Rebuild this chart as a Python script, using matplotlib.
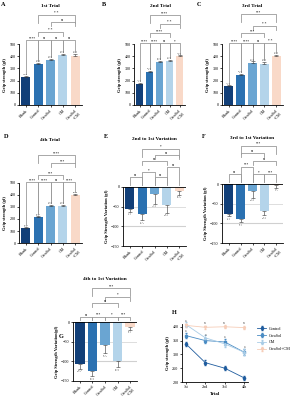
import numpy as np
import matplotlib.pyplot as plt

plt.rcParams['font.family'] = ['Liberation Serif', 'DejaVu Serif']

# data
groups = ['Blank', 'Control', 'CreaSol', 'CM', 'CreaSol\n+CM']
colors = ['#123f78', '#2b71b1', '#6aa5d2', '#b4d4ea', '#f9d9c8']

trial1 = [230, 338, 368, 408, 405]
trial1_err = [6, 10, 12, 14, 12]
trial2 = [175, 270, 350, 360, 398]
trial2_err = [6, 8, 14, 12, 8]
trial3 = [155, 250, 345, 338, 400]
trial3_err = [6, 8, 12, 14, 10]
trial4 = [125, 215, 308, 308, 397]
trial4_err = [6, 8, 10, 12, 10]

var21 = [-55, -68, -17, -47, -10]
var21_err = [8, 17, 26, 18, 10]
var31 = [-75, -88, -17, -68, -3]
var31_err = [7, 9, 18, 12, 6]
var41 = [-107, -125, -58, -100, -12]
var41_err = [12, 13, 22, 15, 8]

trials = ['1st', '2nd', '3rd', '4th']
line_names = ['Control', 'CreaSol', 'CM', 'CreaSol+CM']
line_control = [338, 270, 250, 215]
line_creasol = [368, 350, 345, 308]
line_cm = [408, 360, 338, 308]
line_both = [405, 398, 400, 397]
line_err = [[6, 8, 8, 8], [8, 10, 10, 10], [8, 10, 10, 10], [6, 6, 6, 6]]
line_sig = [['', '', '', ''], ['a', 'a', 'a', 'a'], ['', '', '', ''], ['a', 'ns', 'ns', 'ns']]

# brackets: (i, j, height, label)
br_A = [(0, 1, 533, '****'), (1, 2, 533, 'ns'), (2, 3, 533, 'ns'), (3, 4, 533, 'ns'),
        (1, 3, 598, '* *'), (2, 4, 680, 'ns'), (1, 4, 738, '* *')]
br_B = [(0, 1, 505, '****'), (1, 2, 505, '****'), (2, 3, 505, 'ns'), (3, 4, 505, '*'),
        (1, 3, 590, '****'), (2, 4, 664, '* *'), (1, 4, 738, '****')]
br_C = [(0, 1, 508, '****'), (1, 2, 508, '****'), (2, 3, 508, 'ns'), (3, 4, 508, '* *'),
        (1, 3, 590, '***'), (2, 4, 650, '* *'), (1, 4, 746, '***')]
br_D = [(0, 1, 508, '****'), (1, 2, 508, '****'), (2, 3, 508, 'ns'), (3, 4, 508, '****'),
        (1, 3, 567, '***'), (2, 4, 667, '***'), (1, 4, 733, '****')]
br_E = [(0, 1, 25, 'ns'), (1, 2, 38, '*'), (2, 3, 25, 'ns'), (3, 4, 51, 'ns'),
        (1, 3, 66, 'ns'), (2, 4, 81, 'ns'), (1, 4, 97, '*')]
br_F = [(0, 1, 25, 'ns'), (1, 2, 44, '***'), (2, 3, 25, '*'), (3, 4, 25, '***'),
        (1, 3, 79, 'ns'), (2, 4, 58, 'ns'), (1, 4, 97, '***')]
br_G = [(0, 1, 13, 'ns'), (1, 2, 13, '***'), (2, 3, 13, '*'), (3, 4, 13, '***'),
        (1, 3, 48, 'ns'), (2, 4, 64, '*'), (1, 4, 86, '***')]

fig = plt.figure(figsize=(2.96, 4.0), dpi=100)


def add_ax(l, t, r, b):
    return fig.add_axes([l / 296, 1 - b / 400, (r - l) / 296, (b - t) / 400])


def style(ax):
    for s in ['top', 'right']:
        ax.spines[s].set_visible(False)
    for s in ['left', 'bottom']:
        ax.spines[s].set_linewidth(0.6)
    ax.tick_params(width=0.5, length=1.5, labelsize=3, pad=1)


def bracket(ax, i, j, y, txt, lo_i, lo_j):
    ax.plot([i, i, j, j], [lo_i, y, y, lo_j], color='#9a9a9a', lw=0.6, clip_on=False)
    ax.text((i + j) / 2, y, txt, ha='center', va='bottom', fontsize=2.5, clip_on=False)


def bar_panel(ax, vals, errs, brs, ylabel, neg=False):
    x = np.arange(len(vals))
    ax.bar(x, vals, width=0.75, color=colors, zorder=2)
    for xi, v, e in zip(x, vals, errs):
        ax.errorbar(xi, v, yerr=[[0], [e]] if not neg else [[e], [0]], color='#333333',
                    elinewidth=0.4, capsize=1.2, capthick=0.4, zorder=3)
        yt = v + e if not neg else v - e
        ax.text(xi, yt + (6 if not neg else -4), f'{abs(v):.1f}\n±{e:.1f}', ha='center',
                va='bottom' if not neg else 'top', fontsize=1.5, color='#555555', linespacing=0.9)
    style(ax)
    ax.set_xlim(-0.55, 4.55)
    ax.set_xticks(x)
    ax.set_xticklabels(groups, rotation=45, ha='right', rotation_mode='anchor', fontsize=3)
    if not neg:
        ax.set_ylim(0, 500)
        ax.set_yticks([0, 100, 200, 300, 400, 500])
        rng = 500
    else:
        ax.set_ylim(-150, 0)
        ax.set_yticks([0, -50, -100, -150])
        ax.axhline(-50, color='#d0d0d0', lw=0.5, zorder=1)
        ax.axhline(-100, color='#d0d0d0', lw=0.8, zorder=1)
        ax.axhline(0, color='black', lw=0.6, zorder=4)
        rng = 150
    ax.set_ylabel(ylabel, fontsize=3.2, fontweight='bold', labelpad=1.5)
    top = max(b[2] for b in brs)
    for i, j, y, txt in brs:
        if j - i == 1:
            if neg:
                lo_i, lo_j = 4, 4
            else:
                lo_i = vals[i] + errs[i] + 0.03 * rng
                lo_j = vals[j] + errs[j] + 0.03 * rng
        else:
            drop = 0.13 * rng if y == top else 0.07 * rng
            lo_i = lo_j = y - drop
        bracket(ax, i, j, y, txt, lo_i, lo_j)
    return ax


axA = add_ax(19, 44, 82, 105)
bar_panel(axA, trial1, trial1_err, br_A, 'Grip strength (gf)')
axB = add_ax(134, 44, 185, 105)
bar_panel(axB, trial2, trial2_err, br_B, 'Grip strength (gf)')
axC = add_ax(222, 44, 283, 105)
bar_panel(axC, trial3, trial3_err, br_C, 'Grip strength (gf)')
axD = add_ax(19, 183, 82, 243)
bar_panel(axD, trial4, trial4_err, br_D, 'Grip strength (gf)')
axE = add_ax(123, 187, 186, 246)
bar_panel(axE, var21, var21_err, br_E, 'Grip Strength Variation (gf)', neg=True)
axF = add_ax(222, 184, 283, 243)
bar_panel(axF, var31, var31_err, br_F, 'Grip Strength Variation (gf)', neg=True)
axG = add_ax(73, 322, 137, 381)
bar_panel(axG, var41, var41_err, br_G, 'Grip Strength Variation(gf)', neg=True)

# titles and panel letters (pixel positions)
titles = [('1st Trial', 50, 6), ('2nd Trial', 160, 6), ('3rd Trial', 252, 6),
          ('4th Trial', 50, 140), ('2nd to 1st Variation', 154, 139), ('3rd to 1st Variation', 252, 138),
          ('4th to 1st Variation', 105, 279)]
for t, px, py in titles:
    fig.text(px / 296, 1 - py / 400, t, ha='center', va='center', fontsize=3.8, fontweight='bold')
letters = [('A', 3, 4), ('B', 104, 4), ('C', 199, 4), ('D', 6, 137), ('E', 106, 137),
           ('F', 204, 137), ('G', 61, 336), ('H', 174, 312)]
for t, px, py in letters:
    fig.text(px / 296, 1 - py / 400, t, ha='center', va='center', fontsize=4.5, fontweight='bold')

# panel H
axH = add_ax(182, 324, 248, 382)
line_colors = ['#1f5c9e', '#4a8cc4', '#a9cce6', '#f6cdb8']
markers = ['o', 's', '^', 'v']
xs = np.arange(len(trials))
for k, (vals, name) in enumerate(zip([line_control, line_creasol, line_cm, line_both], line_names)):
    axH.errorbar(xs, vals, yerr=line_err[k], color=line_colors[k], marker=markers[k], ms=1.6,
                 lw=0.6, elinewidth=0.4, capsize=0.8, label=name, clip_on=False)
    for xi, v, s in zip(xs, vals, line_sig[k]):
        if s:
            axH.text(xi, v + line_err[k][xi] + 2, s, ha='center', va='bottom', fontsize=2.3,
                     color='#444444')
style(axH)
axH.set_ylim(200, 410)
axH.set_yticks([200, 250, 300, 350, 400])
axH.set_xlim(-0.2, 3.2)
axH.set_xticks(xs)
axH.set_xticklabels(trials, fontsize=3)
axH.set_ylabel('Grip strength (gf)', fontsize=3.2, fontweight='bold', labelpad=1.5)
axH.set_xlabel('Trial', fontsize=3.5, fontweight='bold', labelpad=2)
axH.legend(loc='upper left', bbox_to_anchor=(1.08, 1.02), frameon=False, fontsize=3,
           handlelength=2.2, labelspacing=0.7, handletextpad=0.6)

fig.savefig('out.png', dpi=100)
